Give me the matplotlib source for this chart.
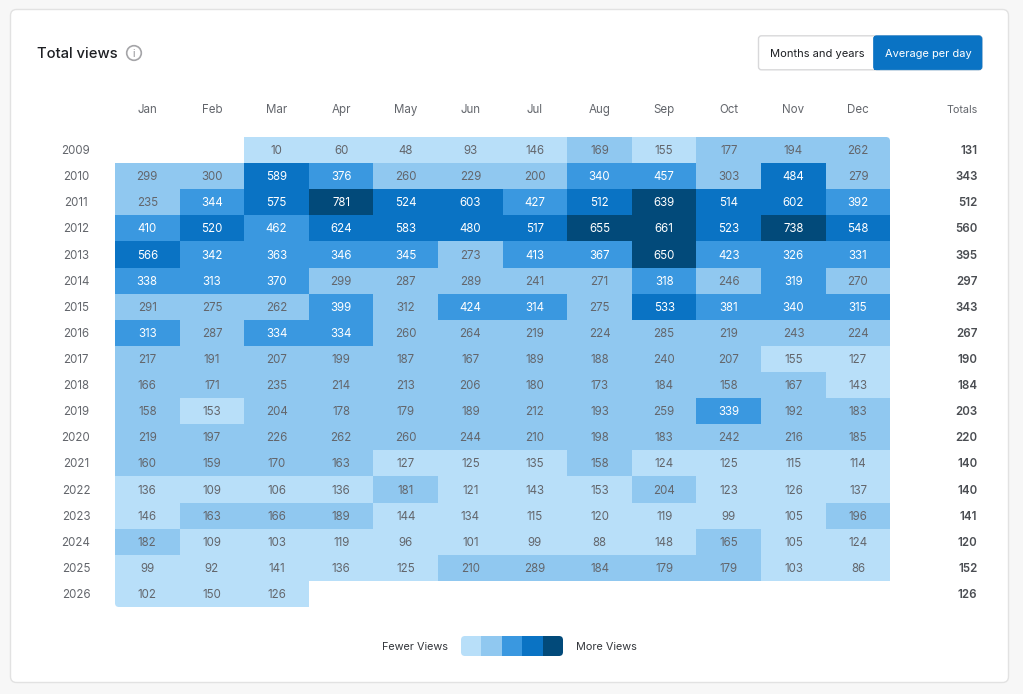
import matplotlib
matplotlib.use("Agg")
import matplotlib.pyplot as plt
from matplotlib.colors import ListedColormap, BoundaryNorm
from matplotlib.patches import FancyBboxPatch, Circle, Rectangle
import numpy as np

plt.rcParams['font.family'] = ['Inter', 'DejaVu Sans']

W, H = 1023, 694
nan = float('nan')

months = ['Jan', 'Feb', 'Mar', 'Apr', 'May', 'Jun', 'Jul', 'Aug', 'Sep', 'Oct', 'Nov', 'Dec']
years = list(range(2009, 2027))
totals = [131, 343, 512, 560, 395, 297, 343, 267, 190, 184, 203, 220, 140, 140, 141, 120, 152, 126]

v2009 = [nan, nan, 10, 60, 48, 93, 146, 169, 155, 177, 194, 262]
v2010 = [299, 300, 589, 376, 260, 229, 200, 340, 457, 303, 484, 279]
v2011 = [235, 344, 575, 781, 524, 603, 427, 512, 639, 514, 602, 392]
v2012 = [410, 520, 462, 624, 583, 480, 517, 655, 661, 523, 738, 548]
v2013 = [566, 342, 363, 346, 345, 273, 413, 367, 650, 423, 326, 331]
v2014 = [338, 313, 370, 299, 287, 289, 241, 271, 318, 246, 319, 270]
v2015 = [291, 275, 262, 399, 312, 424, 314, 275, 533, 381, 340, 315]
v2016 = [313, 287, 334, 334, 260, 264, 219, 224, 285, 219, 243, 224]
v2017 = [217, 191, 207, 199, 187, 167, 189, 188, 240, 207, 155, 127]
v2018 = [166, 171, 235, 214, 213, 206, 180, 173, 184, 158, 167, 143]
v2019 = [158, 153, 204, 178, 179, 189, 212, 193, 259, 339, 192, 183]
v2020 = [219, 197, 226, 262, 260, 244, 210, 198, 183, 242, 216, 185]
v2021 = [160, 159, 170, 163, 127, 125, 135, 158, 124, 125, 115, 114]
v2022 = [136, 109, 106, 136, 181, 121, 143, 153, 204, 123, 126, 137]
v2023 = [146, 163, 166, 189, 144, 134, 115, 120, 119, 99, 105, 196]
v2024 = [182, 109, 103, 119, 96, 101, 99, 88, 148, 165, 105, 124]
v2025 = [99, 92, 141, 136, 125, 210, 289, 184, 179, 179, 103, 86]
v2026 = [102, 150, 126, nan, nan, nan, nan, nan, nan, nan, nan, nan]

rows = [v2009, v2010, v2011, v2012, v2013, v2014, v2015, v2016, v2017,
        v2018, v2019, v2020, v2021, v2022, v2023, v2024, v2025, v2026]

bins = [0, 157, 313, 470, 630, 1000]
shades = ['#b8dff9', '#90c8f0', '#3a98e0', '#0a73c4', '#024a7a']

TXT = '#63666c'
DARK = '#1d1f23'
FS = 8.3

fig = plt.figure(figsize=(W / 100, H / 100), dpi=100, facecolor='#f7f7f7')

# page furniture, in pixel coordinates
bg = fig.add_axes([0, 0, 1, 1])
bg.set_xlim(0, W)
bg.set_ylim(H, 0)
bg.axis('off')
bg.add_patch(FancyBboxPatch((10.5, 9.5), 998, 673, boxstyle='round,pad=0,rounding_size=6',
                            fc='white', ec='#e2e2e2', lw=1))

bg.text(37, 54, 'Total views', fontsize=10.6, color=DARK, ha='left', va='center', fontweight='medium')
bg.add_patch(Circle((134, 53), 7.3, fc='none', ec='#a5a5a8', lw=1.2))
bg.text(134, 53.5, 'i', fontsize=7.5, color='#8f8f93', ha='center', va='center')

# toggle
bg.add_patch(FancyBboxPatch((758.5, 35.8), 223.5, 34, boxstyle='round,pad=0,rounding_size=3',
                            fc='white', ec='#d8d8da', lw=1))
bg.add_patch(FancyBboxPatch((873.5, 35.8), 108.5, 34, boxstyle='round,pad=0,rounding_size=3',
                            fc='#0a73c4', ec='#0a73c4', lw=0.5))
bg.add_patch(Rectangle((873.5, 35.8), 6, 34, fc='#0a73c4', ec='none'))
bg.text(817, 53.7, 'Months and years', fontsize=8.0, color=DARK, ha='center', va='center')
bg.text(928, 53.7, 'Average per day', fontsize=7.95, color='white', ha='center', va='center')

# heatmap
x0, x1, y0, y1 = 115, 890.3, 137, 607
ax = fig.add_axes([x0 / W, 1 - y1 / H, (x1 - x0) / W, (y1 - y0) / H])
cmap = ListedColormap(shades)
norm = BoundaryNorm(bins, cmap.N)
data = np.ma.masked_invalid(np.array(rows, dtype=float))
mesh = ax.pcolormesh(np.arange(13), np.arange(19), data, cmap=cmap, norm=norm)
ax.set_xlim(0, 12)
ax.set_ylim(18, 0)
ax.axis('off')
clip = FancyBboxPatch((x0, y0), x1 - x0, y1 - y0, boxstyle='round,pad=0,rounding_size=4',
                      transform=bg.transData, fc='none', ec='none')
bg.add_patch(clip)
mesh.set_clip_path(clip)

for r, row in enumerate(rows):
    for c, v in enumerate(row):
        if v != v:
            continue
        ax.text(c + 0.5, r + 0.54, str(v), fontsize=FS, ha='center', va='center',
                color='white' if v >= bins[2] else TXT)

cell_w = (x1 - x0) / 12
cell_h = (y1 - y0) / 18
for c, m in enumerate(months):
    bg.text(x0 + cell_w * (c + 0.5), 110, m, fontsize=FS, color=TXT, ha='center', va='center')
bg.text(977.5, 110, 'Totals', fontsize=7.8, color=TXT, ha='right', va='center')

for r, (yr, tot) in enumerate(zip(years, totals)):
    yc = y0 + cell_h * (r + 0.5) + 1
    bg.text(76, yc, str(yr), fontsize=FS, color=TXT, ha='center', va='center')
    bg.text(977.5, yc, str(tot), fontsize=FS, color='#4a4d52', ha='right', va='center', fontweight='semibold')

# legend
lx0, lx1, ly0, ly1 = 461, 563, 635.5, 656
lax = fig.add_axes([lx0 / W, 1 - ly1 / H, (lx1 - lx0) / W, (ly1 - ly0) / H])
lmesh = lax.pcolormesh(np.arange(6), [0, 1], [list(range(5))], cmap=cmap,
                       norm=BoundaryNorm(np.arange(-0.5, 5), 5))
lax.axis('off')
lclip = FancyBboxPatch((lx0, ly0), lx1 - lx0, ly1 - ly0, boxstyle='round,pad=0,rounding_size=4',
                       transform=bg.transData, fc='none', ec='none')
bg.add_patch(lclip)
lmesh.set_clip_path(lclip)
bg.text(415, 646.7, 'Fewer Views', fontsize=7.85, color='#33363b', ha='center', va='center')
bg.text(606.5, 646.7, 'More Views', fontsize=7.85, color='#33363b', ha='center', va='center')

fig.savefig('out.png', dpi=100, facecolor=fig.get_facecolor())
